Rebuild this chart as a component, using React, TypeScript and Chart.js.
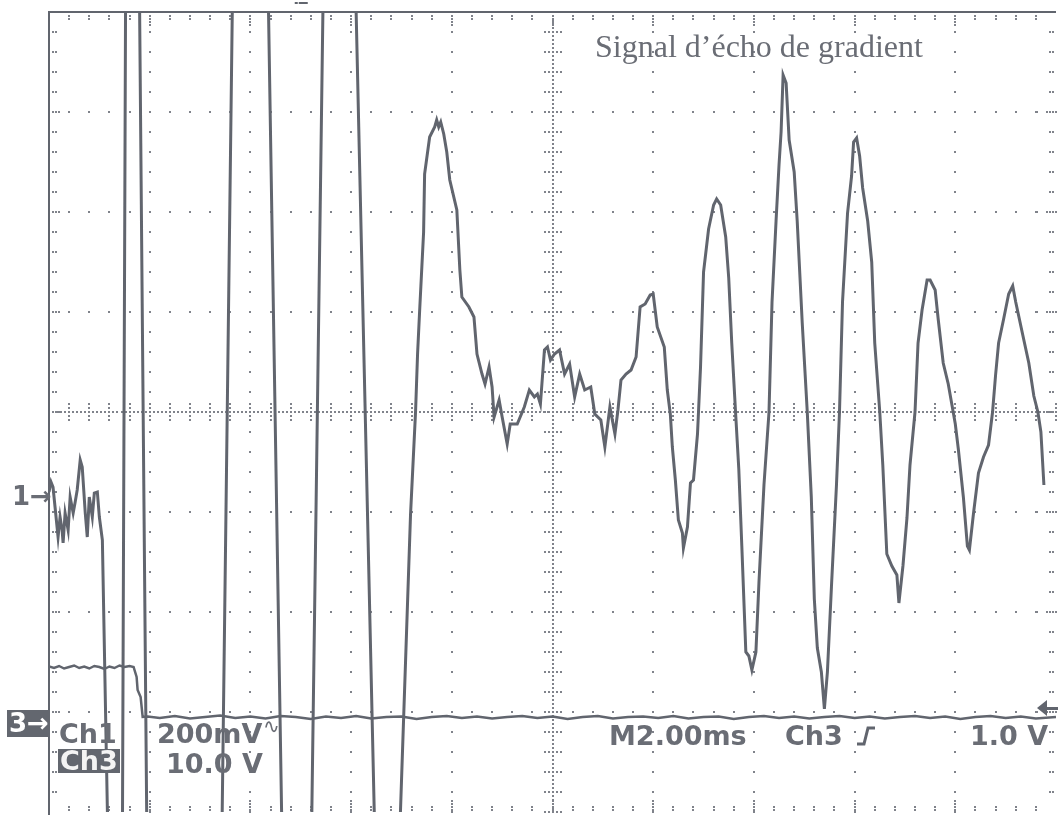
import React, { useEffect, useRef } from "react";
import { Chart, registerables } from "chart.js";

Chart.register(...registerables);

const TRACE = "#61656e";
const GRID = "#80838b";
const TEXT = "#6a6d75";
const BOX = "#63676f";

// Graticule: 10 horizontal divisions (2.00 ms/div), 8 vertical divisions
const xDivisions = [0, 1, 2, 3, 4, 5, 6, 7, 8, 9, 10];
const yDivisions = [-4, -3, -2, -1, 0, 1, 2, 3, 4];
const minorPerDiv = 5;

// Ch1 (200 mV/div) — time in divisions, level in divisions
const ch1Time = [
  0.0, 0.02, 0.04, 0.06, 0.09, 0.11, 0.13, 0.14, 0.16, 0.19, 0.21, 0.24, 0.26, 0.28, 0.31, 0.33, 0.36, 0.38, 0.4, 0.43, 0.45, 0.48, 0.5, 0.53,
  0.58, 0.65, 0.73, 0.76, 0.83, 0.9, 0.97, 1.35, 1.72, 1.82, 2.0, 2.18, 2.31, 2.46, 2.61, 2.72, 2.88, 3.05, 3.23, 3.36, 3.49,
  3.59, 3.64, 3.66, 3.68, 3.72, 3.73, 3.78, 3.83, 3.85, 3.87, 3.89, 3.92,
  3.95, 3.98, 4.05, 4.08, 4.1, 4.17, 4.22, 4.25, 4.3, 4.33, 4.37, 4.4, 4.42, 4.47, 4.5, 4.55, 4.58, 4.65, 4.72, 4.77, 4.82, 4.85, 4.88,
  4.92, 4.95, 4.98, 5.02, 5.07, 5.12, 5.17, 5.22, 5.27, 5.32, 5.38, 5.42, 5.48, 5.52, 5.57, 5.62, 5.65, 5.68, 5.73, 5.78, 5.83, 5.87,
  5.92, 5.97, 6.0, 6.04, 6.11, 6.14, 6.17, 6.19, 6.22, 6.25, 6.29, 6.3, 6.34, 6.37, 6.4, 6.44, 6.47, 6.5, 6.55, 6.6, 6.63, 6.67, 6.72,
  6.75, 6.78, 6.82, 6.85, 6.88, 6.92, 6.95, 6.98, 7.02, 7.05, 7.1, 7.15, 7.18, 7.22, 7.25, 7.27, 7.29, 7.32, 7.35, 7.4, 7.43, 7.48, 7.53,
  7.57, 7.6, 7.63, 7.67, 7.7, 7.73, 7.77, 7.82, 7.85, 7.88, 7.93, 7.97, 7.99, 8.02, 8.05, 8.08, 8.13, 8.17, 8.2, 8.25, 8.28, 8.32, 8.37,
  8.42, 8.44, 8.48, 8.52, 8.55, 8.6, 8.63, 8.67, 8.72, 8.75, 8.8, 8.83, 8.88, 8.93, 9.0, 9.03, 9.08, 9.12, 9.14, 9.18, 9.23, 9.28, 9.33,
  9.37, 9.4, 9.43, 9.48, 9.53, 9.57, 9.6, 9.67, 9.73, 9.78, 9.82, 9.85, 9.88,
];
const ch1Level = [
  -0.8, -0.7, -0.75, -0.95, -1.25, -1.05, -1.18, -1.31, -1.01, -1.18, -0.85, -1.01, -0.9, -0.78, -0.48, -0.55, -1.01, -1.25, -0.85, -1.05, -0.81, -0.8, -1.05, -1.28,
  -4.0, -4.6, -4.0, 4.0, 4.6, 4.0, -4.0, -5.0, -4.0, 4.0, 5.0, 4.0, -4.0, -4.8, -4.0, 4.0, 4.8, 4.0, -4.0, -4.6, -4.0,
  -1.03, 0.0, 0.58, 1.0, 1.8, 2.38, 2.75, 2.85, 2.92, 2.85, 2.9, 2.78,
  2.6, 2.32, 2.02, 1.42, 1.15, 1.05, 0.95, 0.58, 0.38, 0.28, 0.45, 0.25, -0.05, 0.12, -0.05, -0.32, -0.12, -0.12, 0.05, 0.22, 0.15, 0.18, 0.08,
  0.62, 0.65, 0.52, 0.58, 0.62, 0.38, 0.48, 0.15, 0.38, 0.22, 0.25, -0.02, -0.08, -0.35, 0.05, -0.22, 0.02, 0.32, 0.38, 0.42, 0.55, 1.05,
  1.08, 1.17, 1.18, 0.85, 0.65, 0.22, -0.02, -0.35, -0.68, -1.08, -1.21, -1.36, -1.15, -0.71, -0.68, -0.22, 0.45, 1.4, 1.83, 2.07, 2.13, 2.07, 1.75,
  1.34, 0.69, -0.04, -0.57, -1.34, -2.4, -2.44, -2.58, -2.4, -1.71, -0.73, 0.0, 1.1, 1.91, 2.48, 2.8, 3.37, 3.29, 2.72, 2.4, 1.91, 0.89, 0.0,
  -0.85, -1.87, -2.36, -2.6, -2.97, -2.6, -1.75, -0.73, 0.0, 1.1, 1.99, 2.36, 2.7, 2.74, 2.56, 2.24, 1.91, 1.5, 0.69, 0.0, -0.53, -1.42, -1.54,
  -1.63, -1.91, -1.54, -1.06, -0.53, 0.0, 0.69, 1.02, 1.32, 1.32, 1.22, 0.93, 0.49, 0.28, -0.12, -0.37, -0.85, -1.34, -1.38, -1.02, -0.61, -0.45, -0.33,
  0.0, 0.37, 0.69, 0.93, 1.18, 1.26, 1.1, 0.77, 0.49, 0.16, 0.0, -0.2, -0.73,
];

// Ch3 (10.0 V/div) — time in divisions, level in divisions
const ch3Time = [
  0.0, 0.05, 0.1, 0.15, 0.2, 0.25, 0.3, 0.35, 0.4, 0.45, 0.5, 0.55, 0.6, 0.65, 0.7, 0.75, 0.8, 0.84, 0.87, 0.88, 0.91, 0.93,
  0.98, 1.1, 1.25, 1.4, 1.55, 1.7, 1.85, 2.0, 2.15, 2.3, 2.45, 2.6, 2.75, 2.9, 3.05, 3.2, 3.35, 3.5, 3.65, 3.8, 3.95, 4.1, 4.25, 4.4,
  4.55, 4.7, 4.85, 5.0, 5.15, 5.3, 5.45, 5.6, 5.75, 5.9, 6.05, 6.2, 6.35, 6.5, 6.65, 6.8, 6.95, 7.1, 7.25, 7.4, 7.55, 7.7, 7.85, 8.0,
  8.15, 8.3, 8.45, 8.6, 8.75, 8.9, 9.05, 9.2, 9.35, 9.5, 9.65, 9.8, 10.0,
];
const ch3Level = [
  -2.545, -2.56, -2.54, -2.565, -2.55, -2.535, -2.56, -2.545, -2.565, -2.54, -2.55, -2.57, -2.545, -2.56, -2.535, -2.55, -2.54, -2.55, -2.65, -2.78, -2.85, -3.05,
  -3.045, -3.06, -3.04, -3.065, -3.05, -3.035, -3.06, -3.045, -3.065, -3.04, -3.05, -3.07, -3.045, -3.06, -3.04, -3.065, -3.05, -3.045, -3.07, -3.05, -3.04, -3.06, -3.045, -3.065,
  -3.05, -3.04, -3.06, -3.045, -3.07, -3.05, -3.04, -3.065, -3.05, -3.045, -3.06, -3.04, -3.065, -3.05, -3.045, -3.07, -3.05, -3.04, -3.06, -3.045, -3.065, -3.05, -3.04, -3.06,
  -3.045, -3.065, -3.05, -3.04, -3.06, -3.045, -3.07, -3.05, -3.04, -3.06, -3.045, -3.065, -3.05,
];

// Channel reference markers (divisions)
const triggerLevel = -2.96;
const triggerPosition = 2.5;

function toPoints(t: number[], v: number[]) {
  const n = Math.min(t.length, v.length);
  const out: { x: number; y: number }[] = [];
  for (let i = 0; i < n; i++) out.push({ x: t[i], y: v[i] });
  return out;
}

const graticule = {
  id: "graticule",
  beforeDatasetsDraw(chart: any) {
    const { ctx, chartArea: a, scales } = chart;
    const xs = scales.x;
    const ys = scales.y;
    const xMin = xDivisions[0];
    const xMax = xDivisions[xDivisions.length - 1];
    const yMin = yDivisions[0];
    const yMax = yDivisions[yDivisions.length - 1];
    const xMid = (xMin + xMax) / 2;
    const yMid = (yMin + yMax) / 2;
    ctx.save();
    ctx.fillStyle = GRID;
    const dot = (px: number, py: number) => ctx.fillRect(Math.round(px) - 1, Math.round(py) - 1, 2, 2);

    const nyMinor = (yMax - yMin) * minorPerDiv;
    const nxMinor = (xMax - xMin) * minorPerDiv;

    // vertical major lines
    for (const d of xDivisions) {
      if (d === xMin || d === xMax) continue;
      const px = xs.getPixelForValue(d);
      if (d === xMid) {
        const n = nyMinor * 5;
        for (let k = 0; k <= n; k++) dot(px, ys.getPixelForValue(yMin + ((yMax - yMin) * k) / n));
        for (let k = 0; k <= nyMinor; k++) {
          const py = ys.getPixelForValue(yMin + ((yMax - yMin) * k) / nyMinor);
          for (const off of [-8, -4, 4, 8]) dot(px + off, py);
        }
      } else {
        for (let k = 0; k <= nyMinor; k++) dot(px, ys.getPixelForValue(yMin + ((yMax - yMin) * k) / nyMinor));
      }
    }
    // horizontal major lines
    for (const d of yDivisions) {
      if (d === yMin || d === yMax) continue;
      const py = ys.getPixelForValue(d);
      if (d === yMid) {
        const n = nxMinor * 5;
        for (let k = 0; k <= n; k++) dot(xs.getPixelForValue(xMin + ((xMax - xMin) * k) / n), py);
        for (let k = 0; k <= nxMinor; k++) {
          const px = xs.getPixelForValue(xMin + ((xMax - xMin) * k) / nxMinor);
          for (const off of [-8, -4, 4, 8]) dot(px, py + off);
        }
      } else {
        for (let k = 0; k <= nxMinor; k++) dot(xs.getPixelForValue(xMin + ((xMax - xMin) * k) / nxMinor), py);
      }
    }
    // edge ticks
    for (let k = 1; k < nyMinor; k++) {
      const py = ys.getPixelForValue(yMin + ((yMax - yMin) * k) / nyMinor);
      const major = k % minorPerDiv === 0;
      const offs = major ? [4, 7, 10, 20] : [4, 7];
      for (const o of offs) {
        dot(a.left + o, py);
        dot(a.right - o + 1, py);
      }
    }
    for (let k = 1; k < nxMinor; k++) {
      const px = xs.getPixelForValue(xMin + ((xMax - xMin) * k) / nxMinor);
      const major = k % minorPerDiv === 0;
      const offs = major ? [4, 7, 10, 13] : [4, 7];
      for (const o of offs) {
        dot(px, a.top + o);
        dot(px, a.bottom - o + 2);
      }
    }
    // frame (top and left)
    ctx.fillStyle = TRACE;
    ctx.fillRect(a.left - 1, a.top - 1, a.right - a.left + 1, 2);
    ctx.fillRect(a.left - 1, a.top - 1, 2, chart.height - a.top + 1);
    ctx.restore();
  },
  afterDraw(chart: any) {
    const { ctx, chartArea: a, scales } = chart;
    const ys = scales.y;
    const xs = scales.x;
    ctx.save();
    ctx.fillStyle = TRACE;
    ctx.strokeStyle = TRACE;
    // trigger level arrow on right edge
    const ty = ys.getPixelForValue(triggerLevel);
    ctx.beginPath();
    ctx.moveTo(a.right - 19, ty);
    ctx.lineTo(a.right - 9, ty - 8);
    ctx.lineTo(a.right - 9, ty + 8);
    ctx.closePath();
    ctx.fill();
    ctx.fillRect(a.right - 10, ty - 1, 12, 3);
    // trigger position marker on top
    const tx = xs.getPixelForValue(triggerPosition);
    ctx.fillRect(tx - 6, 2, 3, 2);
    ctx.fillRect(tx - 2, 2, 9, 2);
    // trigger slope symbol (rising edge)
    ctx.lineWidth = 3;
    ctx.beginPath();
    ctx.moveTo(857, 744);
    ctx.lineTo(864, 744);
    ctx.lineTo(868, 728);
    ctx.lineTo(875, 728);
    ctx.stroke();
    ctx.restore();
  },
};

const mono = (left: number, top: number, size = 27): React.CSSProperties => ({
  position: "absolute",
  left,
  top,
  fontFamily: '"DejaVu Sans", sans-serif',
  fontWeight: 700,
  fontSize: size,
  lineHeight: `${size}px`,
  color: TEXT,
  whiteSpace: "pre",
});

export default function App() {
  const ref = useRef<HTMLCanvasElement | null>(null);
  useEffect(() => {
    if (!ref.current) return;
    const chart = new Chart(ref.current, {
      type: "line",
      data: {
        datasets: [
          {
            label: "Ch3",
            data: toPoints(ch3Time, ch3Level),
            borderColor: TRACE,
            borderWidth: 2.5,
            pointRadius: 0,
            tension: 0,
          },
          {
            label: "Ch1",
            data: toPoints(ch1Time, ch1Level),
            borderColor: TRACE,
            borderWidth: 3,
            pointRadius: 0,
            tension: 0,
          },
        ],
      },
      options: {
        responsive: false,
        animation: false,
        devicePixelRatio: 1,
        layout: { padding: { left: 49, top: 12, right: 2, bottom: 3 } },
        plugins: { legend: { display: false }, tooltip: { enabled: false }, title: { display: false } },
        scales: {
          x: { type: "linear", min: xDivisions[0], max: xDivisions[xDivisions.length - 1], display: false },
          y: { type: "linear", min: yDivisions[0], max: yDivisions[yDivisions.length - 1], display: false },
        },
      },
      plugins: [graticule],
    });
    return () => chart.destroy();
  }, []);

  return (
    <div style={{ position: "fixed", left: 0, top: 0, width: 1058, height: 815, background: "#fff", overflow: "hidden" }}>
      <canvas ref={ref} width={1058} height={815} style={{ position: "absolute", left: 0, top: 0 }} />
      <div
        style={{
          position: "absolute",
          left: 595,
          top: 30,
          fontFamily: '"Liberation Serif", "Times New Roman", serif',
          fontSize: 32,
          lineHeight: "32px",
          color: TEXT,
          whiteSpace: "pre",
        }}
      >
        Signal d’écho de gradient
      </div>
      <div style={mono(12, 483, 26)}>1→</div>
      <div style={{ ...mono(7, 710, 26), background: BOX, color: "#fff", width: 43, height: 27, paddingLeft: 2, boxSizing: "border-box" }}>3→</div>
      <div style={mono(59, 720)}>Ch1</div>
      <div style={{ ...mono(58, 749), lineHeight: "24px", height: 24, background: BOX, color: "#f4f4f4", padding: "0 2px" }}>Ch3</div>
      <div style={mono(157, 720)}>200mV</div>
      <div style={{ ...mono(263, 716, 20), fontWeight: 400 }}>∿</div>
      <div style={mono(166, 750)}>10.0 V</div>
      <div style={mono(609, 722)}>M2.00ms</div>
      <div style={mono(785, 722)}>Ch3</div>
      <div style={mono(970, 722)}>1.0 V</div>
    </div>
  );
}
